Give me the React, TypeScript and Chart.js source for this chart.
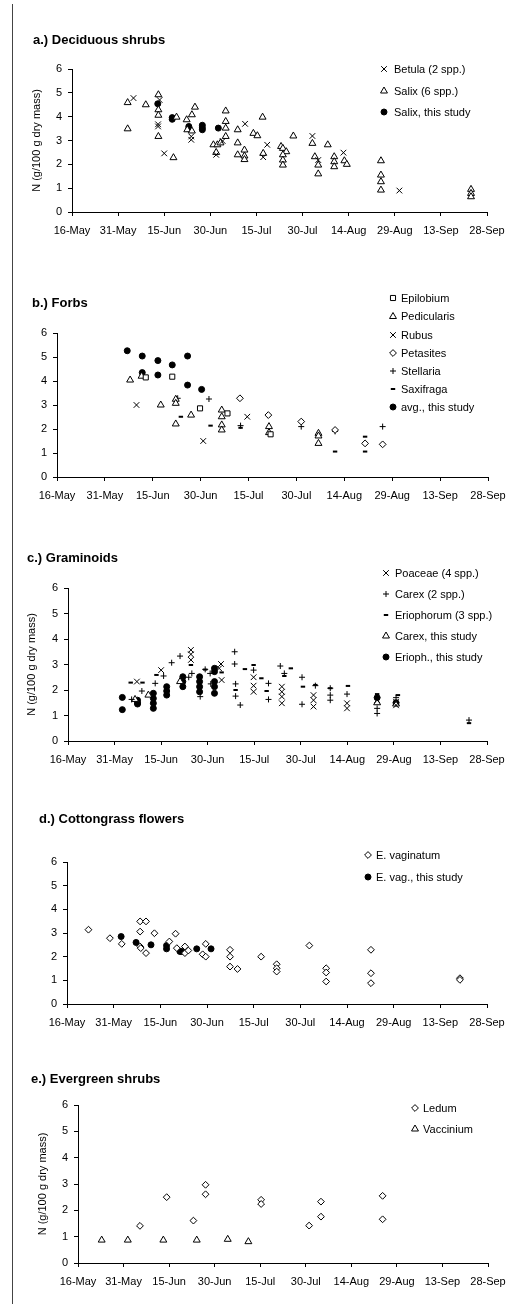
import React, { useEffect, useRef } from 'react';
import { Chart, registerables } from 'chart.js';
import { drawPoint } from 'chart.js/helpers';

Chart.register(...registerables);

const FONT = "'Liberation Sans', Arial, Helvetica, sans-serif";

// x = days after 16-May
const dateLabels = ['16-May', '31-May', '15-Jun', '30-Jun', '15-Jul', '30-Jul', '14-Aug', '29-Aug', '13-Sep', '28-Sep'];
const yTitle = 'N (g/100 g dry mass)';

// a.) Deciduous shrubs
const aBetulaDays = [20, 28.5, 28, 28, 30, 38.8, 38.8, 46.9, 49, 56.3, 63.5, 62.2, 78.2, 80.1, 88.3, 106.5];
const aBetulaN = [4.78, 4.7, 3.68, 3.59, 2.46, 3.17, 3.03, 2.4, 2.98, 3.7, 2.82, 2.3, 3.19, 2.18, 2.49, 0.9];
const aSalixDays = [18.1, 18.1, 24, 28.1, 28.1, 28.1, 28.1, 33, 34, 37.3, 40, 39, 37.5, 39, 46, 47.3, 46.9, 48.3, 50, 50, 50, 50, 53.9, 53.9, 53.9, 56.1, 56.1, 56.1, 62, 59, 60.3, 62.2, 72, 68, 68.6, 69.7, 68.6, 68.6, 68.6, 78.2, 83.2, 79, 80.1, 80.1, 85.3, 85.3, 85.3, 88.6, 89.4, 100.5, 100.5, 100.5, 100.5, 129.8, 129.8, 129.8];
const aSalixN = [4.59, 3.49, 4.5, 4.92, 4.29, 4.06, 3.17, 2.28, 3.98, 3.87, 4.4, 4.08, 3.45, 3.4, 2.82, 2.82, 2.5, 2.9, 4.24, 3.8, 3.52, 3.17, 3.45, 2.9, 2.4, 2.6, 2.35, 2.2, 3.98, 3.3, 3.2, 2.46, 3.19, 2.75, 2.67, 2.53, 2.4, 2.18, 1.97, 2.88, 2.82, 2.32, 1.97, 1.6, 2.32, 2.11, 1.9, 2.15, 2.0, 2.15, 1.55, 1.27, 0.92, 0.95, 0.78, 0.64];
const aStudyDays = [27.9, 32.6, 32.6, 38, 38, 42.4, 42.4, 42.4, 47.6];
const aStudyN = [4.54, 3.96, 3.89, 3.59, 3.49, 3.64, 3.53, 3.45, 3.52];

// b.) Forbs
const bEpilobiumDays = [27.8, 36.1, 44.8, 53.4, 66.9];
const bEpilobiumN = [4.15, 4.18, 2.86, 2.65, 1.78];
const bPedicularisDays = [22.9, 26.5, 32.5, 37.2, 37.2, 37.2, 42, 51.6, 51.6, 51.6, 51.6, 66.4, 66.4, 81.9, 81.9, 81.9];
const bPedicularisN = [4.04, 4.2, 3.0, 3.24, 3.07, 2.21, 2.58, 2.79, 2.51, 2.17, 1.96, 2.1, 1.85, 1.82, 1.71, 1.4];
const bRubusDays = [24.9, 45.8, 59.6];
const bRubusN = [3.0, 1.5, 2.51];
const bPetasitesDays = [57.3, 66.2, 76.5, 87.1, 96.5, 102];
const bPetasitesN = [3.28, 2.58, 2.31, 1.96, 1.4, 1.36];
const bStellariaDays = [37.8, 47.6, 57.5, 76.5, 87.1, 102];
const bStellariaN = [3.28, 3.25, 2.14, 2.1, 1.9, 2.1];
const bSaxifragaDays = [38.8, 48.1, 57.5, 87.1, 96.5, 96.5];
const bSaxifragaN = [2.51, 2.14, 2.05, 1.06, 1.68, 1.06];
const bStudyDays = [22, 26.7, 31.6, 36.1, 40.9, 26.7, 31.6, 40.9, 45.3];
const bStudyN = [5.26, 5.04, 4.85, 4.67, 5.04, 4.35, 4.25, 3.83, 3.65];

// c.) Graminoids
const cPoaceaeDays = [22.2, 30, 39.6, 39.6, 39.6, 49.3, 48.7, 49.5, 59.8, 59.8, 59.8, 68.9, 68.9, 68.9, 68.9, 79.1, 79.1, 79.1, 89.9, 89.9, 99.6, 105.7, 105.7];
const cPoaceaeN = [2.33, 2.78, 3.57, 3.4, 3.18, 3.02, 2.85, 2.39, 2.5, 2.17, 1.93, 2.13, 1.93, 1.74, 1.48, 1.8, 1.6, 1.35, 1.48, 1.28, 1.6, 1.54, 1.4];
const cCarexDays = [20.5, 23.8, 28.1, 30.8, 33.4, 36.1, 38.9, 42.6, 39.9, 44.2, 45.8, 46, 53.7, 53.7, 54, 54, 55.5, 59.8, 64.6, 64.6, 68.4, 69.7, 75.4, 75.4, 79.7, 84.5, 84.5, 84.5, 89.9, 99.6, 99.6, 105.7, 129.2];
const cCarexN = [1.63, 1.96, 2.26, 2.55, 3.07, 3.33, 2.5, 1.74, 2.65, 2.81, 2.65, 2.24, 3.5, 3.02, 2.24, 1.76, 1.41, 2.78, 2.26, 1.63, 2.94, 2.65, 2.5, 1.44, 2.17, 2.07, 1.8, 1.6, 1.84, 1.28, 1.08, 1.7, 0.82];
const cEriophorumDays = [20.2, 24, 28.5, 39.6, 44.2, 49.5, 54, 57, 59.8, 62.3, 64, 71.8, 69.7, 75.7, 79.7, 84.5, 90.2, 99.6, 106.3, 129.2];
const cEriophorumN = [2.29, 2.29, 2.59, 2.98, 2.8, 2.69, 2.0, 2.82, 2.98, 2.46, 1.96, 2.85, 2.55, 2.13, 2.2, 2.07, 2.16, 1.84, 1.8, 0.7];
const cCarexStudyDays = [21.6, 25.9, 36.1, 99.6, 105.7];
const cCarexStudyN = [1.63, 1.8, 2.33, 1.5, 1.45];
const cErioStudyDays = [17.5, 17.5, 22.4, 22.4, 22.4, 27.5, 27.5, 27.5, 27.5, 31.8, 31.8, 31.8, 37, 37, 37, 42.4, 42.4, 42.4, 42.4, 47.2, 47.2, 47.2, 47.2, 47.2, 99.6, 105.7];
const cErioStudyN = [1.71, 1.23, 1.6, 1.5, 1.45, 1.87, 1.67, 1.48, 1.28, 2.13, 1.96, 1.8, 2.52, 2.33, 2.13, 2.52, 2.33, 2.13, 1.93, 2.85, 2.72, 2.33, 2.13, 1.87, 1.7, 1.5];

// d.) Cottongrass flowers
const dVagDays = [6.9, 13.8, 17.6, 23.5, 25.4, 23.5, 23.5, 23.7, 25.4, 28.1, 32.9, 34.9, 35.3, 37.9, 37.9, 39, 44.6, 43.6, 44.6, 52.4, 52.4, 52.4, 54.8, 62.4, 67.4, 67.4, 67.4, 77.9, 83.3, 83.3, 83.3, 97.7, 97.7, 97.7, 126.3, 126.3];
const dVagN = [3.14, 2.78, 2.54, 3.49, 3.49, 3.06, 2.43, 2.36, 2.15, 2.99, 2.64, 2.97, 2.36, 2.43, 2.15, 2.26, 2.54, 2.1, 2.0, 2.29, 2.0, 1.58, 1.48, 2.0, 1.68, 1.51, 1.37, 2.47, 1.51, 1.33, 0.95, 2.29, 1.3, 0.88, 1.09, 1.02];
const dStudyDays = [17.4, 22.2, 27, 32, 32, 36.3, 36.8, 41.7, 46.3];
const dStudyN = [2.85, 2.6, 2.5, 2.47, 2.33, 2.22, 2.22, 2.33, 2.33];

// e.) Evergreen shrubs
const eLedumDays = [20.4, 29.2, 38, 42, 42, 60.3, 60.3, 76.1, 80, 80, 100.3, 100.3];
const eLedumN = [1.41, 2.5, 1.61, 2.97, 2.61, 2.4, 2.24, 1.42, 2.33, 1.76, 2.55, 1.66];
const eVacciniumDays = [7.8, 16.4, 28.1, 39.1, 49.3, 56.1];
const eVacciniumN = [0.87, 0.87, 0.87, 0.87, 0.9, 0.81];

type Sym = { style: string; radius: number; fill: string; width: number };
const X: Sym = { style: 'crossRot', radius: 4, fill: '#fff', width: 1 };
const TRI: Sym = { style: 'triangle', radius: 4, fill: '#fff', width: 1 };
const DOT: Sym = { style: 'circle', radius: 3, fill: '#000', width: 1 };
const SQ: Sym = { style: 'rect', radius: 3.6, fill: '#fff', width: 1 };
const DIA: Sym = { style: 'rectRot', radius: 3.4, fill: '#fff', width: 1 };
const PLUS: Sym = { style: 'cross', radius: 3, fill: '#fff', width: 1 };
const DASH: Sym = { style: 'line', radius: 2.2, fill: '#fff', width: 2 };

type Series = { label: string; days: number[]; n: number[]; sym: Sym };
type PanelCfg = {
  title: string; titleX: number; titleY: number;
  L: number; R: number; T: number; B: number;
  yTitleX: number | null;
  series: Series[];
  legendSX: number; legendTX: number; legendYs: number[];
};

const panels: PanelCfg[] = [
  {
    title: 'a.) Deciduous shrubs', titleX: 33, titleY: 40, L: 72, R: 487, T: 69, B: 212, yTitleX: 37,
    series: [
      { label: 'Betula (2 spp.)', days: aBetulaDays, n: aBetulaN, sym: X },
      { label: 'Salix (6 spp.)', days: aSalixDays, n: aSalixN, sym: TRI },
      { label: 'Salix, this study', days: aStudyDays, n: aStudyN, sym: DOT },
    ],
    legendSX: 384, legendTX: 394, legendYs: [69, 91, 112],
  },
  {
    title: 'b.) Forbs', titleX: 32, titleY: 303, L: 57, R: 488, T: 333, B: 477, yTitleX: null,
    series: [
      { label: 'Epilobium', days: bEpilobiumDays, n: bEpilobiumN, sym: SQ },
      { label: 'Pedicularis', days: bPedicularisDays, n: bPedicularisN, sym: TRI },
      { label: 'Rubus', days: bRubusDays, n: bRubusN, sym: X },
      { label: 'Petasites', days: bPetasitesDays, n: bPetasitesN, sym: DIA },
      { label: 'Stellaria', days: bStellariaDays, n: bStellariaN, sym: PLUS },
      { label: 'Saxifraga', days: bSaxifragaDays, n: bSaxifragaN, sym: DASH },
      { label: 'avg., this study', days: bStudyDays, n: bStudyN, sym: DOT },
    ],
    legendSX: 393, legendTX: 401, legendYs: [298, 316.5, 335, 353, 371, 389, 407],
  },
  {
    title: 'c.) Graminoids', titleX: 27, titleY: 558, L: 68, R: 487, T: 588, B: 741, yTitleX: 32,
    series: [
      { label: 'Poaceae (4 spp.)', days: cPoaceaeDays, n: cPoaceaeN, sym: X },
      { label: 'Carex (2 spp.)', days: cCarexDays, n: cCarexN, sym: PLUS },
      { label: 'Eriophorum (3 spp.)', days: cEriophorumDays, n: cEriophorumN, sym: DASH },
      { label: 'Carex, this study', days: cCarexStudyDays, n: cCarexStudyN, sym: TRI },
      { label: 'Erioph., this study', days: cErioStudyDays, n: cErioStudyN, sym: DOT },
    ],
    legendSX: 386, legendTX: 395, legendYs: [573, 594, 615, 636, 657],
  },
  {
    title: 'd.) Cottongrass flowers', titleX: 39, titleY: 819, L: 67, R: 487, T: 862, B: 1004, yTitleX: null,
    series: [
      { label: 'E. vaginatum', days: dVagDays, n: dVagN, sym: DIA },
      { label: 'E. vag., this study', days: dStudyDays, n: dStudyN, sym: DOT },
    ],
    legendSX: 368, legendTX: 376, legendYs: [855, 877],
  },
  {
    title: 'e.) Evergreen shrubs', titleX: 31, titleY: 1079, L: 78, R: 488, T: 1105, B: 1263, yTitleX: 43,
    series: [
      { label: 'Ledum', days: eLedumDays, n: eLedumN, sym: DIA },
      { label: 'Vaccinium', days: eVacciniumDays, n: eVacciniumN, sym: TRI },
    ],
    legendSX: 415, legendTX: 423, legendYs: [1108, 1129],
  },
];

const TOP_PAD = 45;
const X_H = 35;

function Panel({ cfg }: { cfg: PanelCfg }) {
  const ref = useRef<HTMLCanvasElement>(null);
  const canvasTop = cfg.T - TOP_PAD;
  const canvasH = cfg.B - cfg.T + TOP_PAD + X_H;
  useEffect(() => {
    if (!ref.current) return;
    const legendPlugin = {
      id: 'symLegend' + cfg.title,
      afterDraw(chart: any) {
        const ctx = chart.ctx;
        ctx.save();
        ctx.font = `11px ${FONT}`;
        ctx.textBaseline = 'middle';
        ctx.textAlign = 'left';
        cfg.series.forEach((s, i) => {
          const y = cfg.legendYs[i] - canvasTop;
          ctx.fillStyle = s.sym.fill;
          ctx.strokeStyle = '#000';
          ctx.lineWidth = s.sym.width;
          drawPoint(ctx, { pointStyle: s.sym.style as any, radius: s.sym.radius, borderWidth: s.sym.width, rotation: 0 } as any, cfg.legendSX, y);
          ctx.fillStyle = '#000';
          ctx.fillText(s.label, cfg.legendTX, y + 0.5);
        });
        ctx.restore();
      },
    };
    const tickFont = { size: 11, family: FONT };
    const chart = new Chart(ref.current, {
      type: 'scatter',
      data: {
        datasets: cfg.series.map((s) => ({
          label: s.label,
          data: s.days.map((d, i) => ({ x: d, y: s.n[i] })),
          pointStyle: s.sym.style as any,
          pointRadius: s.sym.radius,
          pointHoverRadius: s.sym.radius,
          pointBorderWidth: s.sym.width,
          pointBorderColor: '#000',
          pointBackgroundColor: s.sym.fill,
          borderColor: '#000',
          backgroundColor: s.sym.fill,
          showLine: false,
        })),
      },
      options: {
        responsive: false,
        animation: false,
        events: [],
        layout: { padding: { top: TOP_PAD, left: 0, right: 526 - cfg.R, bottom: 0 } },
        plugins: { legend: { display: false }, tooltip: { enabled: false }, title: { display: false } },
        scales: {
          x: {
            type: 'linear', min: 0, max: 135,
            afterFit: (s: any) => { s.height = X_H; },
            ticks: {
              stepSize: 15, autoSkip: false, maxRotation: 0, minRotation: 0, padding: 8,
              color: '#000', font: tickFont,
              callback: (v: any) => dateLabels[Math.round(Number(v) / 15)] ?? '',
            },
            grid: { drawOnChartArea: false, drawTicks: true, tickLength: 4, color: '#000' },
            border: { color: '#000', width: 1 },
          },
          y: {
            type: 'linear', min: 0, max: 6,
            afterFit: (s: any) => { s.width = cfg.L; },
            ticks: { stepSize: 1, padding: 6, color: '#000', font: tickFont },
            grid: { drawOnChartArea: false, drawTicks: true, tickLength: 4, color: '#000' },
            border: { color: '#000', width: 1 },
            title: cfg.yTitleX !== null
              ? { display: true, text: yTitle, color: '#000', font: tickFont, padding: { top: cfg.yTitleX - 6.6, bottom: 0 } }
              : { display: false },
          },
        },
      } as any,
      plugins: [legendPlugin],
    });
    return () => chart.destroy();
  }, []);
  return (
    <canvas
      ref={ref}
      width={526}
      height={canvasH}
      style={{ position: 'absolute', left: 0, top: canvasTop, width: 526, height: canvasH }}
    />
  );
}

export default function App() {
  useEffect(() => {
    document.body.style.margin = '0';
    document.body.style.background = '#fff';
  }, []);
  return (
    <div style={{ position: 'relative', width: 526, height: 1308, background: '#fff', overflow: 'hidden' }}>
      <div style={{ position: 'absolute', left: 12, top: 4, width: 1, height: 1300, background: '#444' }} />
      {panels.map((p) => (
        <Panel key={p.title} cfg={p} />
      ))}
      {panels.map((p) => (
        <div
          key={'t' + p.title}
          style={{
            position: 'absolute', left: p.titleX, top: p.titleY - 8, lineHeight: '16px',
            font: `bold 13px ${FONT}`, color: '#000', whiteSpace: 'nowrap',
          }}
        >
          {p.title}
        </div>
      ))}
    </div>
  );
}
